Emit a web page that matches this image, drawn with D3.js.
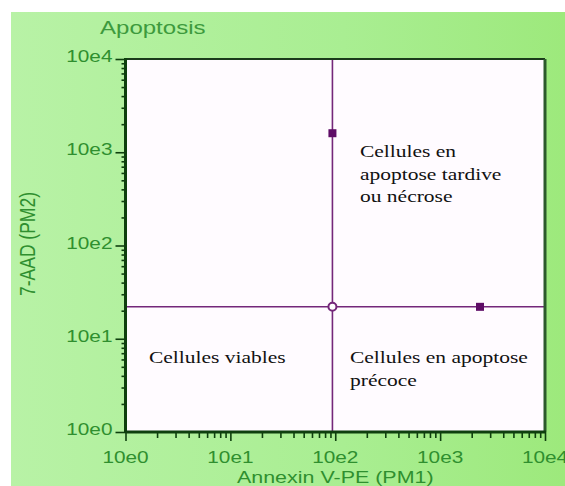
<!DOCTYPE html>
<html>
<head>
<meta charset="utf-8">
<script src="https://cdn.jsdelivr.net/npm/d3@7"></script>
<style>
  html, body { margin: 0; padding: 0; background: #ffffff; }
  svg { display: block; }
</style>
</head>
<body>
<svg id="chart" width="565" height="486"></svg>
<script>
// Quadrant gate thresholds (Annexin V-PE / 7-AAD)
const gateX = 94;
const gateY = 22;

// Gated event markers
const squareX = [94, 2400];
const squareY = [1600, 22];
const circleX = [94];
const circleY = [22];

// Axis ticks and labels
const majorTicks = [1, 10, 100, 1000, 10000];
const tickLabels = ["10e0", "10e1", "10e2", "10e3", "10e4"];
const minorSteps = [2, 3, 4, 5, 6, 7, 8, 9];

// Quadrant annotations
const quadrantLines = [
  ["Cellules en", "apoptose tardive", "ou nécrose"],
  ["Cellules viables"],
  ["Cellules en apoptose", " précoce"]
];
const titleText = "Apoptosis";
const xTitle = "Annexin V-PE (PM1)";
const yTitle = "7-AAD (PM2)";

const svg = d3.select("#chart");
const W = 565, H = 486;
const plot = { left: 125.5, right: 545, top: 59, bottom: 432 };
const SX = 1.3; // horizontal text stretch

const x = d3.scaleLog().domain([1, 10000]).range([plot.left, plot.right]);
const y = d3.scaleLog().domain([1, 10000]).range([plot.bottom, plot.top]);

// Background panel
const defs = svg.append("defs");
const grad = defs.append("linearGradient").attr("id", "bg").attr("x1", "0").attr("x2", "1").attr("y1", "0").attr("y2", "0");
grad.append("stop").attr("offset", "0").attr("stop-color", "#b8f2a6");
grad.append("stop").attr("offset", "0.6").attr("stop-color", "#a9ee92");
grad.append("stop").attr("offset", "1").attr("stop-color", "#9de97c");
svg.append("rect").attr("x", 11).attr("y", 12).attr("width", W - 11).attr("height", H - 12).attr("fill", "url(#bg)");

// Plot area
svg.append("rect")
  .attr("x", plot.left).attr("y", plot.top)
  .attr("width", plot.right - plot.left).attr("height", plot.bottom - plot.top)
  .attr("fill", "#fffbff");

function stretchedText(g, str, px, py, opts) {
  const t = g.append("text")
    .attr("transform", `translate(${px},${py}) scale(${opts.sx || SX},1)`)
    .attr("text-anchor", opts.anchor || "start")
    .attr("font-family", opts.family)
    .attr("font-size", opts.size)
    .attr("fill", opts.fill)
    .text(str);
  return t;
}

const sans = "'Liberation Sans', Arial, sans-serif";
const serif = "'Liberation Serif', 'Times New Roman', serif";
const labelGreen = "#2f8f2f";
const axisGreen = "#0e3f0e";

// Quadrant gate lines
const gate = svg.append("g").attr("stroke", "#74277a").attr("stroke-width", 1.6);
gate.append("line").attr("x1", x(gateX)).attr("x2", x(gateX)).attr("y1", plot.top).attr("y2", plot.bottom);
gate.append("line").attr("x1", plot.left).attr("x2", plot.right).attr("y1", y(gateY)).attr("y2", y(gateY));

// Minor and major ticks via d3 axes
const minorValues = [];
[1, 10, 100, 1000].forEach(d => minorSteps.forEach(s => minorValues.push(d * s)));

function styleAxis(g) {
  g.selectAll("text").remove();
  g.select(".domain").remove();
  g.selectAll("line").attr("stroke", axisGreen).attr("stroke-width", 1.6);
}

svg.append("g").attr("transform", `translate(0,${plot.bottom})`)
  .call(d3.axisBottom(x).tickValues(minorValues).tickSize(6)).call(styleAxis);
svg.append("g").attr("transform", `translate(0,${plot.bottom})`)
  .call(d3.axisBottom(x).tickValues(majorTicks).tickSize(9)).call(styleAxis);
svg.append("g").attr("transform", `translate(${plot.left},0)`)
  .call(d3.axisLeft(y).tickValues(minorValues).tickSize(4)).call(styleAxis);
svg.append("g").attr("transform", `translate(${plot.left},0)`)
  .call(d3.axisLeft(y).tickValues(majorTicks).tickSize(10)).call(styleAxis);

// Plot frame: heavy axes on left/bottom, darker border top/right
svg.append("line").attr("x1", plot.left).attr("x2", plot.right).attr("y1", plot.top).attr("y2", plot.top)
  .attr("stroke", "#1b3a1b").attr("stroke-width", 2);
svg.append("line").attr("x1", plot.right).attr("x2", plot.right).attr("y1", plot.top).attr("y2", plot.bottom)
  .attr("stroke", "#2c5a2c").attr("stroke-width", 3);
svg.append("line").attr("x1", plot.left).attr("x2", plot.left).attr("y1", plot.top - 1).attr("y2", plot.bottom + 1)
  .attr("stroke", axisGreen).attr("stroke-width", 3);
svg.append("line").attr("x1", plot.left).attr("x2", plot.right + 1).attr("y1", plot.bottom).attr("y2", plot.bottom)
  .attr("stroke", axisGreen).attr("stroke-width", 3);

// Tick labels
const labels = svg.append("g");
majorTicks.forEach((v, i) => {
  stretchedText(labels, tickLabels[i], x(v), 463, { anchor: "middle", family: sans, size: 16, fill: labelGreen });
  stretchedText(labels, tickLabels[i], plot.left - 13, y(v) + 3, { anchor: "end", family: sans, size: 16, fill: labelGreen });
});

// Titles
stretchedText(svg, titleText, 100, 34, { anchor: "start", family: sans, size: 18.5, fill: "#3d9a3d" });
stretchedText(svg, xTitle, (plot.left + plot.right) / 2, 483, { anchor: "middle", family: sans, size: 16.5, fill: labelGreen });
svg.append("text")
  .attr("transform", `translate(35,244) rotate(-90) scale(1,${SX})`)
  .attr("text-anchor", "middle")
  .attr("font-family", sans).attr("font-size", 17.5).attr("fill", labelGreen)
  .text(yTitle);

// Event markers
svg.append("g").selectAll("rect").data(squareX.map((d, i) => [d, squareY[i]])).join("rect")
  .attr("x", d => x(d[0]) - 4).attr("y", d => y(d[1]) - 4)
  .attr("width", 8).attr("height", 8)
  .attr("fill", "#5e0c66");
svg.append("g").selectAll("circle").data(circleX.map((d, i) => [d, circleY[i]])).join("circle")
  .attr("cx", d => x(d[0])).attr("cy", d => y(d[1])).attr("r", 4)
  .attr("fill", "#ffffff").attr("stroke", "#74277a").attr("stroke-width", 2);

// Quadrant annotations
const ann = svg.append("g");
const serifOpts = { anchor: "start", family: serif, size: 16.8, fill: "#111111", sx: 1.28 };
quadrantLines[0].forEach((s, i) => stretchedText(ann, s, 360, 157 + i * 22.5, serifOpts));
quadrantLines[1].forEach((s, i) => stretchedText(ann, s, 149, 363 + i * 22.5, serifOpts));
quadrantLines[2].forEach((s, i) => stretchedText(ann, s, 350, 363 + i * 22.5, serifOpts));
</script>
</body>
</html>
